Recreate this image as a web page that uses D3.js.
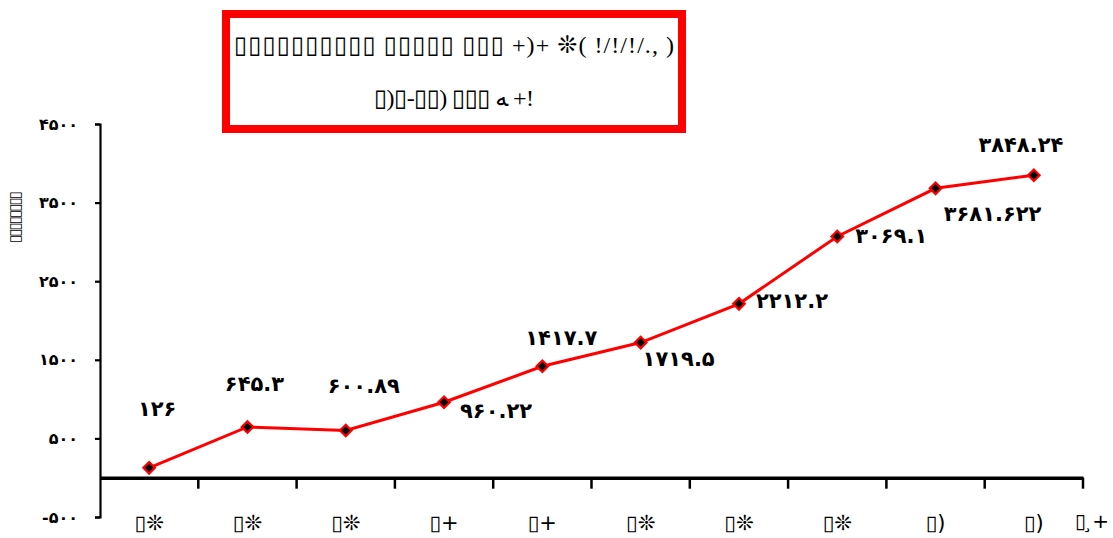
<!DOCTYPE html>
<html><head><meta charset="utf-8">
<script src="https://cdn.jsdelivr.net/npm/d3@7"></script>
<style>body{margin:0;background:#fff}svg{display:block}</style>
</head><body>
<svg id="c" width="1113" height="538"></svg>
<script>
const categories = ["▯❊","▯❊","▯❊","▯+","▯+","▯❊","▯❊","▯❊","▯)","▯)"];
const values = [126, 645.3, 600.89, 960.22, 1417.7, 1719.5, 2212.2, 3069.1, 3681.622, 3848.24];
const valueLabels = ["۱۲۶","۶۴۵.۳","۶۰۰.۸۹","۹۶۰.۲۲","۱۴۱۷.۷","۱۷۱۹.۵","۲۲۱۲.۲","۳۰۶۹.۱","۳۶۸۱.۶۲۲","۳۸۴۸.۲۴"];
const yTicks = [-500, 500, 1500, 2500, 3500, 4500];
const titleLines = ["▯▯▯▯▯▯▯▯▯▯ ▯▯▯▯▯ ▯▯▯  +)+ ❊(   !/!/!/.,   )", "▯)▯-▯▯) ▯▯▯ ﻪ +!"];
const yTitle = "▯▯▯▯▯▯▯▯";
const xTitle = "▯ ̧+";
// label placement (layout only): [dx, dy] relative to point
const labelOffsets = [[8,-58],[7,-42],[18,-43],[52,10],[19,-27],[38,17],[53,-2],[54,1],[57,27],[-13,-29]];

const svg = d3.select("#c");
const fa = d => String(d).replace(/[0-9]/g, c => "۰۱۲۳۴۵۶۷۸۹"[+c]);

const x = d3.scaleBand().domain(d3.range(categories.length)).range([100, 1083]);
const y = d3.scaleLinear().domain([-500, 4500]).range([517, 124]);

// Y axis
const yAx = svg.append("g").attr("transform","translate(100,0)")
  .call(d3.axisLeft(y).tickValues(yTicks).tickSize(5).tickFormat(fa));
yAx.select(".domain").attr("stroke","#000").attr("stroke-width",2.2);
yAx.selectAll(".tick line").attr("stroke","#000").attr("stroke-width",2.2);
yAx.selectAll(".tick text").attr("x",-22).attr("font-family","DejaVu Sans").attr("font-weight","bold").attr("font-size",16).attr("fill","#000");

// X axis at y=0
const xAx = svg.append("g").attr("transform",`translate(0,${y(0)})`)
  .call(d3.axisBottom(x).tickSize(0).tickFormat(i => categories[i]));
xAx.select(".domain").attr("stroke","#000").attr("stroke-width",3.5);
xAx.selectAll(".tick text").attr("dy",0).attr("y",52).attr("font-family","DejaVu Sans").attr("font-size",21).attr("fill","#000");
xAx.append("g").selectAll("line").data(d3.range(1, categories.length+1)).join("line")
  .attr("x1", i => x(i-1)+x.bandwidth()).attr("x2", i => x(i-1)+x.bandwidth())
  .attr("y1",0).attr("y2",11).attr("stroke","#000").attr("stroke-width",2.5);

// X title
svg.append("text").attr("x",1109).attr("y",528).attr("text-anchor","end")
  .attr("font-family","DejaVu Sans").attr("font-size",20).text(xTitle);

// Y title
svg.append("text").attr("transform","translate(20,218) rotate(-90)").attr("text-anchor","middle")
  .attr("font-family","DejaVu Sans").attr("font-size",15).attr("letter-spacing",-2).attr("fill","#000").text(yTitle);

// line
const cx = i => x(i) + x.bandwidth()/2;
svg.append("path").datum(values)
  .attr("d", d3.line().x((d,i)=>cx(i)).y(d=>y(d)))
  .attr("fill","none").attr("stroke","#ff0000").attr("stroke-width",3);

// markers
svg.append("g").selectAll("path").data(values).join("path")
  .attr("transform",(d,i)=>`translate(${cx(i)},${y(d)})`)
  .attr("d", d3.symbol(d3.symbolDiamond2, 85))
  .attr("fill","#000").attr("stroke","#ff0000").attr("stroke-width",2.2);

// value labels
svg.append("g").selectAll("text").data(values).join("text")
  .attr("x",(d,i)=>cx(i)+labelOffsets[i][0]).attr("y",(d,i)=>y(d)+labelOffsets[i][1])
  .attr("text-anchor","middle").attr("dominant-baseline","middle")
  .attr("font-family","DejaVu Sans").attr("font-weight","bold").attr("font-size",21).attr("fill","#000")
  .text((d,i)=>valueLabels[i]);

// title box
svg.append("rect").attr("x",226).attr("y",14).attr("width",456).attr("height",115)
  .attr("fill","#fff").attr("stroke","#ff0000").attr("stroke-width",8);
svg.selectAll(".tl").data(titleLines).join("text").attr("class","tl")
  .attr("x",454).attr("y",(d,i)=>[53,106][i]).attr("text-anchor","middle")
  .attr("font-family","Liberation Serif, DejaVu Sans").attr("font-size",24).attr("fill","#000")
  .attr("textLength",(d,i)=>[440,160][i]).attr("lengthAdjust","spacing")
  .text(d=>d);
</script>
</body></html>
